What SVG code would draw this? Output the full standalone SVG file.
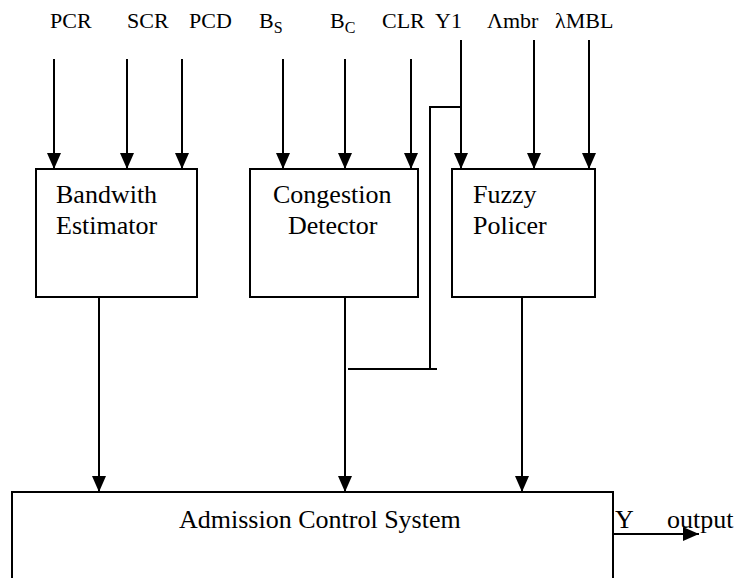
<svg xmlns="http://www.w3.org/2000/svg" width="753" height="578" viewBox="0 0 753 578">
<style>
.t{font-family:"Liberation Serif","Times New Roman",serif;fill:#000}
.h{font-size:22px}
.b{font-size:26px}
.sub{font-size:16px}
.box{fill:#fff;stroke:#000;stroke-width:2}
.ln{fill:none;stroke:#000;stroke-width:2}
.ar{fill:none;stroke:#000;stroke-width:2;marker-end:url(#ah)}
</style>
<defs>
<marker id="ah" markerUnits="userSpaceOnUse" markerWidth="16" markerHeight="16" refX="16" refY="7" orient="auto">
<path d="M0,0 L16,7 L0,14 Z" fill="#000"/>
</marker>
</defs>
<rect width="753" height="578" fill="#fff"/>
<g id="labels">
<text class="t h" x="50" y="28">PCR</text>
<text class="t h" x="127" y="28">SCR</text>
<text class="t h" x="189" y="28">PCD</text>
<text class="t h" x="259" y="28">B<tspan class="sub" dy="5">S</tspan></text>
<text class="t h" x="330" y="28">B<tspan class="sub" dy="5">C</tspan></text>
<text class="t h" x="382" y="28">CLR</text>
<text class="t h" x="435" y="28">Y1</text>
<text class="t h" x="487" y="28">Λmbr</text>
<text class="t h" x="555" y="28">λMBL</text>
</g>
<g id="bandwidth-estimator">
<rect class="box" x="36" y="169" width="161" height="128"/>
<text class="t b" x="56" y="203">Bandwith</text>
<text class="t b" x="56" y="234">Estimator</text>
</g>
<g id="congestion-detector">
<rect class="box" x="250" y="169" width="168" height="128"/>
<text class="t b" x="273" y="203">Congestion</text>
<text class="t b" x="288" y="234">Detector</text>
</g>
<g id="fuzzy-policer">
<rect class="box" x="452" y="169" width="143" height="128"/>
<text class="t b" x="473" y="203">Fuzzy</text>
<text class="t b" x="473" y="234">Policer</text>
</g>
<g id="admission-control-system">
<path class="box" d="M12,590 L12,492 L613,492 L613,590"/>
<text class="t b" x="179" y="528">Admission Control System</text>
<text class="t b" x="615" y="528">Y</text>
<text class="t b" x="667" y="528">output</text>
</g>
<g id="connectors">
<line class="ar" x1="54" y1="59" x2="54" y2="169"/>
<line class="ar" x1="127" y1="59" x2="127" y2="169"/>
<line class="ar" x1="182" y1="59" x2="182" y2="169"/>
<line class="ar" x1="283" y1="59" x2="283" y2="169"/>
<line class="ar" x1="345" y1="59" x2="345" y2="169"/>
<line class="ar" x1="411" y1="59" x2="411" y2="169"/>
<line class="ar" x1="461" y1="40" x2="461" y2="169"/>
<line class="ar" x1="534" y1="40" x2="534" y2="169"/>
<line class="ar" x1="589" y1="40" x2="589" y2="169"/>
<polyline class="ln" points="461,107 430,107 430,369"/>
<line class="ln" x1="348" y1="369" x2="437" y2="369"/>
<line class="ar" x1="99" y1="297" x2="99" y2="492"/>
<line class="ar" x1="345" y1="297" x2="345" y2="492"/>
<line class="ar" x1="522" y1="297" x2="522" y2="492"/>
<line class="ar" x1="613" y1="534" x2="699" y2="534"/>
</g>
</svg>
